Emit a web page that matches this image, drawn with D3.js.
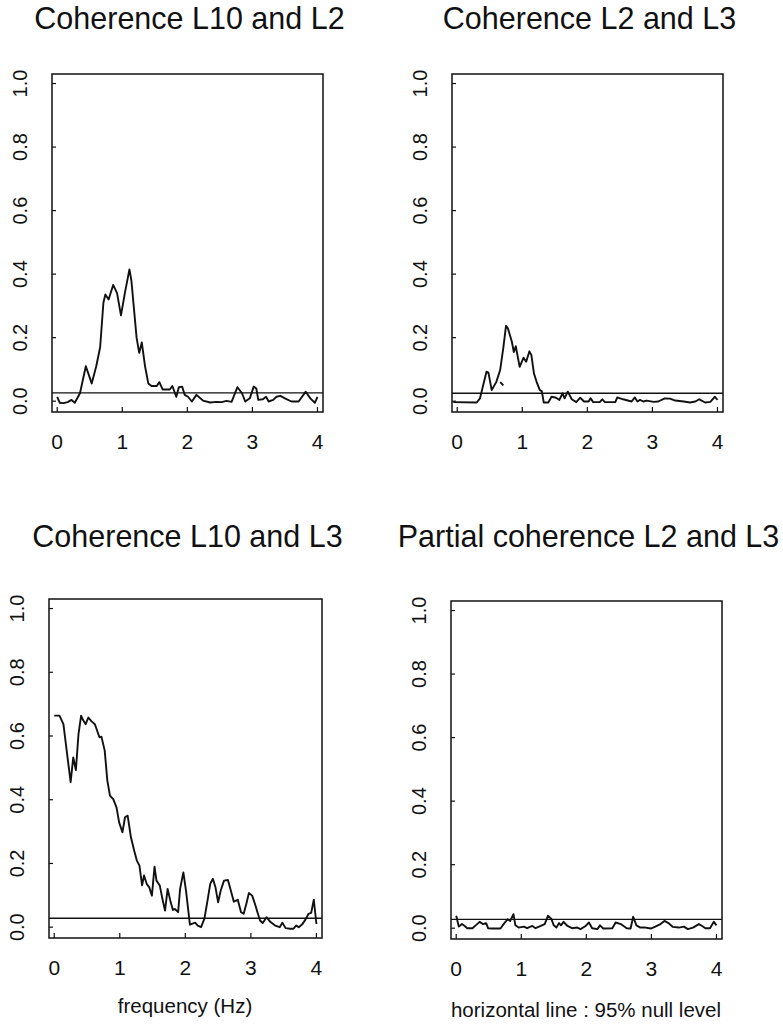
<!DOCTYPE html>
<html lang="en">

<head>
  <meta charset="UTF-8">
  <script src="https://cdn.jsdelivr.net/npm/d3@7/dist/d3.min.js"></script>
  <title>Coherence</title>
  <style>
    body { margin: 0; background: #fff; }
    text { font-family: "Liberation Sans", Arial, Helvetica, sans-serif; fill: #111; }
    .frame { fill: none; stroke: #111; stroke-width: 1.5; }
    .trace { fill: none; stroke: #111; stroke-width: 1.9; stroke-linejoin: round; }
    .null { stroke: #111; stroke-width: 1.3; }
    .tick { stroke: #111; stroke-width: 1.2; }
  </style>
</head>

<body>
  <script>
    // ---- data ----
    const titles = ['Coherence L10 and L2', 'Coherence L2 and L3', 'Coherence L10 and L3', 'Partial coherence L2 and L3'];
    const xTicks = [0, 1, 2, 3, 4];
    const yTicks = [0, 0.2, 0.4, 0.6, 0.8, 1.0];
    const nullLevels = [0.026, 0.025, 0.028, 0.028];

    const freqL10L2 = [0, 0.04, 0.10, 0.16, 0.22, 0.27, 0.35, 0.44, 0.53, 0.60, 0.66, 0.71, 0.74, 0.79, 0.86, 0.92, 0.98, 1.04, 1.11, 1.14,
      1.22, 1.26, 1.30, 1.35, 1.40, 1.45, 1.53, 1.57, 1.62, 1.73, 1.77, 1.83, 1.87, 1.92, 1.96, 2.01, 2.07, 2.14, 2.24, 2.35,
      2.45, 2.53, 2.60, 2.68, 2.77, 2.84, 2.89, 2.96, 3.02, 3.06, 3.09, 3.16, 3.21, 3.25, 3.32, 3.37, 3.43, 3.50, 3.60, 3.71,
      3.82, 3.89, 3.96, 4.00];
    const cohL10L2 = [0.014, -0.005, -0.006, -0.003, 0.004, -0.005, 0.025, 0.11, 0.056, 0.11, 0.17, 0.31, 0.336, 0.32, 0.366, 0.34, 0.27, 0.34, 0.415, 0.38,
      0.20, 0.152, 0.185, 0.11, 0.056, 0.048, 0.048, 0.06, 0.037, 0.037, 0.048, 0.014, 0.044, 0.046, 0.02, 0.014, -0.001, 0.02, 0.002, -0.004,
      -0.002, -0.003, 0.001, -0.002, 0.044, 0.025, -0.001, 0.009, 0.046, 0.04, 0.004, 0.006, 0.014, -0.001, 0.004, 0.014, 0.017, 0.009, -0.001, -0.001,
      0.03, 0.009, -0.005, 0.014];

    const freqL2L3 = [-0.06, 0.30, 0.35, 0.45, 0.48, 0.53, 0.60, 0.66, 0.71, 0.75, 0.78, 0.84, 0.87, 0.90, 0.96, 1.02, 1.06, 1.11, 1.14, 1.18,
      1.22, 1.27, 1.30, 1.33, 1.40, 1.45, 1.52, 1.57, 1.62, 1.65, 1.70, 1.76, 1.83, 1.89, 1.95, 2.02, 2.05, 2.09, 2.19, 2.23,
      2.27, 2.43, 2.46, 2.55, 2.68, 2.73, 2.77, 2.81, 2.86, 2.91, 3.02, 3.09, 3.19, 3.27, 3.35, 3.48, 3.58, 3.66, 3.72, 3.81,
      3.89, 3.96, 4.00];
    const cohL2L3 = [-0.003, -0.004, 0.009, 0.093, 0.09, 0.035, 0.06, 0.098, 0.17, 0.237, 0.229, 0.187, 0.155, 0.173, 0.108, 0.137, 0.124, 0.157, 0.145, 0.087,
      0.061, 0.035, 0.032, -0.004, -0.004, 0.014, 0.011, 0.004, 0.025, 0.009, 0.03, 0.006, -0.003, 0.011, -0.001, -0.001, 0.009, -0.003, -0.003, 0.006,
      -0.003, -0.003, 0.012, 0.006, -0.001, 0.012, -0.001, 0.004, -0.001, 0.002, -0.002, -0.001, 0.009, 0.008, 0.002, -0.001, -0.004, -0.001, 0.006, -0.004,
      -0.002, 0.014, 0.004];
    // short stray stroke beside the peak in the L2/L3 panel
    const strayFreq = [0.66, 0.71];
    const strayCoh = [0.06, 0.05];

    const freqL10L3 = [0, 0.08, 0.14, 0.19, 0.25, 0.29, 0.33, 0.37, 0.41, 0.44, 0.48, 0.52, 0.57, 0.62, 0.69, 0.72, 0.77, 0.81, 0.85, 0.90,
      0.95, 0.99, 1.04, 1.08, 1.12, 1.17, 1.22, 1.26, 1.30, 1.34, 1.37, 1.41, 1.45, 1.49, 1.53, 1.56, 1.61, 1.65, 1.69, 1.73,
      1.77, 1.81, 1.84, 1.89, 1.92, 1.97, 2.01, 2.07, 2.15, 2.19, 2.24, 2.29, 2.33, 2.38, 2.42, 2.46, 2.50, 2.54, 2.59, 2.65,
      2.70, 2.74, 2.80, 2.85, 2.89, 2.93, 2.97, 3.02, 3.07, 3.10, 3.14, 3.18, 3.24, 3.30, 3.37, 3.44, 3.48, 3.53, 3.60, 3.65,
      3.69, 3.73, 3.78, 3.83, 3.88, 3.92, 3.96, 4.00];
    const cohL10L3 = [0.664, 0.664, 0.637, 0.554, 0.455, 0.533, 0.493, 0.606, 0.664, 0.65, 0.637, 0.658, 0.646, 0.637, 0.596, 0.598, 0.554, 0.46, 0.413, 0.402,
      0.376, 0.329, 0.298, 0.345, 0.35, 0.282, 0.24, 0.209, 0.193, 0.131, 0.162, 0.136, 0.125, 0.099, 0.19, 0.146, 0.131, 0.089, 0.052, 0.12,
      0.084, 0.054, 0.057, 0.047, 0.12, 0.172, 0.115, 0.008, 0.014, 0.005, 0.0, 0.026, 0.073, 0.136, 0.152, 0.125, 0.078, 0.115, 0.146, 0.148,
      0.11, 0.08, 0.086, 0.047, 0.042, 0.073, 0.107, 0.099, 0.068, 0.047, 0.021, 0.013, 0.031, 0.016, 0.005, 0.0, 0.014, -0.003, -0.005, -0.005,
      0.005, 0.0, 0.008, 0.023, 0.042, 0.045, 0.086, 0.01];

    const freqPartial = [0, 0.04, 0.09, 0.13, 0.17, 0.25, 0.30, 0.36, 0.41, 0.46, 0.49, 0.55, 0.68, 0.74, 0.79, 0.83, 0.88, 0.91, 0.96, 1.04,
      1.09, 1.17, 1.22, 1.30, 1.36, 1.41, 1.46, 1.50, 1.54, 1.58, 1.61, 1.65, 1.71, 1.78, 1.86, 1.91, 1.99, 2.04, 2.09, 2.17,
      2.21, 2.26, 2.40, 2.45, 2.53, 2.62, 2.68, 2.72, 2.77, 2.83, 2.91, 2.99, 3.06, 3.14, 3.20, 3.27, 3.33, 3.42, 3.50, 3.56,
      3.64, 3.73, 3.78, 3.83, 3.90, 3.96, 4.00];
    const cohPartial = [0.039, 0.005, 0.013, 0.007, 0.0, 0.0, 0.009, 0.02, 0.013, 0.016, 0.0, -0.001, -0.001, 0.016, 0.028, 0.023, 0.044, 0.009, 0.002, 0.005,
      0.0, 0.007, 0.0, 0.007, 0.013, 0.039, 0.03, 0.009, 0.002, 0.016, 0.009, 0.02, 0.007, 0.0, 0.002, -0.003, 0.007, 0.018, 0.0, -0.003,
      0.009, -0.001, 0.0, 0.018, 0.013, 0.0, -0.001, 0.036, 0.009, 0.002, 0.002, -0.001, 0.005, 0.013, 0.023, 0.015, 0.004, 0.002, 0.005, -0.003,
      0.002, 0.013, 0.007, 0.0, 0.0, 0.02, 0.009];

    const series = [
      [freqL10L2, cohL10L2],
      [freqL2L3, cohL2L3],
      [freqL10L3, cohL10L3],
      [freqPartial, cohPartial]
    ];

    // ---- layout (plot box of each panel) ----
    const boxes = [
      { left: 52, right: 323, top: 74, bottom: 412, titleY: 29 },
      { left: 452, right: 723, top: 74, bottom: 412, titleY: 29 },
      { left: 49, right: 322, top: 599, bottom: 938, titleY: 547 },
      { left: 451, right: 722, top: 601, bottom: 939, titleY: 547 }
    ];

    const svg = d3.select('body').append('svg')
      .attr('width', 783)
      .attr('height', 1025);

    boxes.forEach((b, i) => {
      const x = d3.scaleLinear().domain([-0.08, 4.085]).range([b.left, b.right]);
      const y = d3.scaleLinear().domain([-0.034, 1.03]).range([b.bottom, b.top]);
      const g = svg.append('g');

      g.append('text')
        .attr('x', (b.left + b.right) / 2 + 2)
        .attr('y', b.titleY)
        .attr('text-anchor', 'middle')
        .style('font-size', '30.5px')
        .text(titles[i]);

      g.append('rect').attr('class', 'frame')
        .attr('x', b.left).attr('y', b.top)
        .attr('width', b.right - b.left).attr('height', b.bottom - b.top);

      // ticks point inward, as in the original
      g.selectAll('line.xt').data(xTicks).enter().append('line')
        .attr('class', 'tick')
        .attr('x1', d => x(d)).attr('x2', d => x(d))
        .attr('y1', b.bottom).attr('y2', b.bottom - 5);
      g.selectAll('text.xl').data(xTicks).enter().append('text')
        .attr('x', d => x(d)).attr('y', b.bottom + 36.5)
        .attr('text-anchor', 'middle')
        .style('font-size', '21px')
        .text(d => d);

      g.selectAll('line.yt').data(yTicks).enter().append('line')
        .attr('class', 'tick')
        .attr('x1', b.left).attr('x2', b.left + 4)
        .attr('y1', d => y(d)).attr('y2', d => y(d));
      g.selectAll('text.yl').data(yTicks).enter().append('text')
        .attr('transform', d => `translate(${b.left - 32},${y(d)}) rotate(-90)`)
        .attr('dy', '0.36em')
        .attr('text-anchor', 'middle')
        .style('font-size', '20px')
        .text(d => d3.format('.1f')(d));

      g.append('line').attr('class', 'null')
        .attr('x1', b.left).attr('x2', b.right)
        .attr('y1', y(nullLevels[i])).attr('y2', y(nullLevels[i]));

      const [fs, cs] = series[i];
      const line = d3.line().x(d => x(d[0])).y(d => y(d[1]));
      g.append('path').attr('class', 'trace')
        .attr('d', line(d3.zip(fs, cs)));

      if (i === 1) {
        g.append('path').attr('class', 'trace')
          .attr('d', line(d3.zip(strayFreq, strayCoh)));
      }
    });

    svg.append('text')
      .attr('x', 185).attr('y', 1013)
      .attr('text-anchor', 'middle')
      .style('font-size', '20.5px')
      .text('frequency (Hz)');

    svg.append('text')
      .attr('x', 586).attr('y', 1017)
      .attr('text-anchor', 'middle')
      .style('font-size', '20.5px')
      .text('horizontal line : 95% null level');
  </script>
</body>

</html>
